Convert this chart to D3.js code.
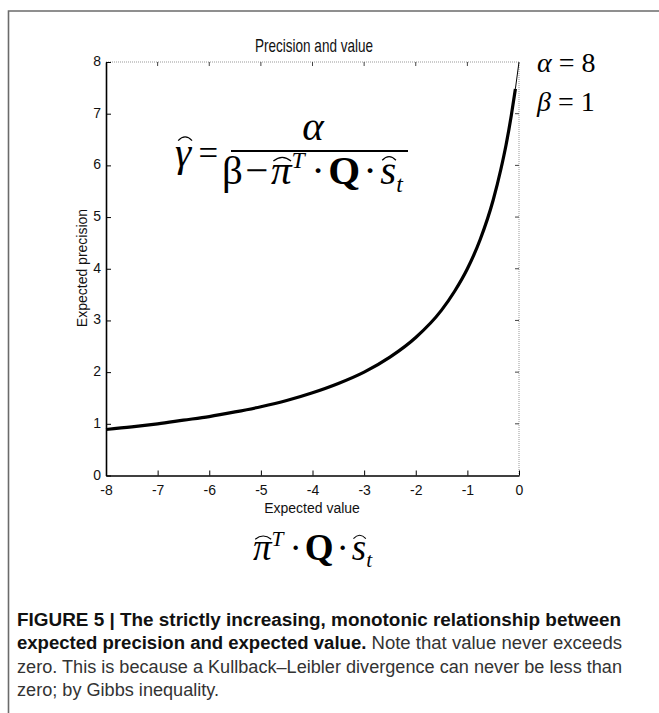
<!DOCTYPE html>
<html>
<head>
<meta charset="utf-8">
<script src="https://cdn.jsdelivr.net/npm/d3@7"></script>
<style>
  body { margin: 0; background: #fff; }
  svg { display: block; }
</style>
</head>
<body>
<div id="chart-area"></div>
<script>
// expected value (x) and expected precision (y)
var expectedValue = [-8, -7.5, -7, -6.5, -6, -5.5, -5, -4.5, -4, -3.5, -3, -2.5, -2, -1.5, -1.25, -1, -0.75, -0.5, -0.35, -0.25, -0.15, -0.07];
var expectedPrecision = [0.89, 0.94, 1.0, 1.07, 1.14, 1.23, 1.33, 1.45, 1.6, 1.78, 2.0, 2.29, 2.67, 3.2, 3.56, 4.0, 4.57, 5.33, 5.93, 6.4, 6.96, 7.48];
// thin tail running up to the corner
var tailValue = [-0.07, 0];
var tailPrecision = [7.48, 8];

var xTicks = [-8, -7, -6, -5, -4, -3, -2, -1, 0];
var yTicks = [0, 1, 2, 3, 4, 5, 6, 7, 8];

var captionLines = [
    [{t: "FIGURE 5 | The strictly increasing, monotonic relationship between", b: true}],
    [{t: "expected precision and expected value.", b: true}, {t: " Note that value never exceeds", b: false}],
    [{t: "zero. This is because a Kullback\u2013Leibler divergence can never be less than", b: false}],
    [{t: "zero; by Gibbs inequality.", b: false}]
];
// full lines are justified to this width; the last one keeps its natural width
var captionWidths = [604, 605, 605, null];

var svg = d3.select("#chart-area").append("svg")
    .attr("width", 659)
    .attr("height", 713);

// frame
svg.append("path")
    .attr("d", "M8.5,713 V11 H700")
    .attr("fill", "none")
    .attr("stroke", "#6b6b6b")
    .attr("stroke-width", 1.6);

var pLeft = 106, pRight = 519, pTop = 62, pBottom = 475.5;

var x = d3.scaleLinear().domain([-8, 0]).range([pLeft, pRight]);
var y = d3.scaleLinear().domain([0, 8]).range([pBottom, pTop]);

var sans = "'Liberation Sans', Arial, sans-serif";
var serif = "'Liberation Serif', 'Times New Roman', serif";

// top and right box edges (light, dotted)
svg.append("path")
    .attr("d", "M" + pLeft + "," + pTop + " H" + pRight + " V" + pBottom)
    .attr("fill", "none")
    .attr("stroke", "#999")
    .attr("stroke-width", 1)
    .attr("stroke-dasharray", "1,1");

// mirrored inward ticks top/right
svg.append("g").selectAll("line").data(xTicks.slice(1, -1)).enter().append("line")
    .attr("x1", d => x(d)).attr("x2", d => x(d))
    .attr("y1", pTop).attr("y2", pTop + 4)
    .attr("stroke", "#444").attr("stroke-width", 1);
svg.append("g").selectAll("line").data(yTicks.slice(1, -1)).enter().append("line")
    .attr("x1", pRight).attr("x2", pRight - 4)
    .attr("y1", d => y(d)).attr("y2", d => y(d))
    .attr("stroke", "#444").attr("stroke-width", 1);

var xAxis = svg.append("g")
    .attr("transform", "translate(0," + pBottom + ")")
    .call(d3.axisBottom(x).tickValues(xTicks).tickSizeInner(-5).tickSizeOuter(0).tickPadding(8).tickFormat(d => String(d)));
var yAxis = svg.append("g")
    .attr("transform", "translate(" + pLeft + ",0)")
    .call(d3.axisLeft(y).tickValues(yTicks).tickSizeInner(-5).tickSizeOuter(0).tickPadding(5).tickFormat(d => String(d)));

[xAxis, yAxis].forEach(a => {
    a.attr("font-size", null).attr("font-family", null);
    a.select(".domain").attr("stroke", "#000").attr("stroke-width", 1.6);
    a.selectAll(".tick line").attr("stroke", "#000");
    a.selectAll("text")
        .style("font-family", sans)
        .style("font-size", "14px")
        .attr("fill", "#111");
});
yAxis.selectAll(".tick text").attr("dy", "0.25em");
xAxis.selectAll(".tick text").attr("dy", "0.8em");

// curve
var line = d3.line()
    .x(d => x(d[0]))
    .y(d => y(d[1]))
    .curve(d3.curveMonotoneX);

svg.append("path")
    .datum(expectedValue.map((v, i) => [v, expectedPrecision[i]]))
    .attr("d", line)
    .attr("fill", "none")
    .attr("stroke", "#000")
    .attr("stroke-width", 3.2);

svg.append("path")
    .datum(tailValue.map((v, i) => [v, tailPrecision[i]]))
    .attr("d", line)
    .attr("fill", "none")
    .attr("stroke", "#000")
    .attr("stroke-width", 1);

// titles
svg.append("text")
    .attr("x", 255).attr("y", 52)
    .attr("font-family", sans).attr("font-size", 19)
    .attr("textLength", 118).attr("lengthAdjust", "spacingAndGlyphs")
    .attr("fill", "#111")
    .text("Precision and value");

svg.append("text")
    .attr("x", 312).attr("y", 513)
    .attr("text-anchor", "middle")
    .attr("font-family", sans).attr("font-size", 14)
    .attr("fill", "#111")
    .text("Expected value");

svg.append("text")
    .attr("transform", "translate(87,268) rotate(-90)")
    .attr("text-anchor", "middle")
    .attr("font-family", sans).attr("font-size", 14)
    .attr("fill", "#111")
    .text("Expected precision");

// little formula layout: pieces placed one after another, hats drawn as arcs
function formula(x0, y0, size, pieces, anchor) {
    var g = svg.append("g");
    var cx = 0;
    var placed = [];
    pieces.forEach(p => {
        cx += (p.gap || 0) * size;
        var fs = size * (p.scale || 1);
        var t = g.append("text")
            .attr("x", cx)
            .attr("y", p.dy ? p.dy * size : 0)
            .attr("font-family", serif)
            .attr("font-size", fs)
            .attr("font-style", p.i ? "italic" : "normal")
            .attr("font-weight", p.b ? "bold" : "normal")
            .attr("fill", "#000")
            .text(p.t);
        var w = t.node().getComputedTextLength();
        placed.push({p: p, x: cx, w: w});
        cx += w + (p.after || 0) * size;
    });
    placed.forEach(q => {
        if (!q.p.hat) return;
        var hy = -size * (q.p.hatY || 0.62);
        var sh = (q.p.hatShift || 0) * size;
        var x1 = q.x + q.w * 0.12 + sh, x2 = q.x + q.w * 0.98 + sh;
        g.append("path")
            .attr("d", "M" + x1 + "," + hy + " Q" + ((x1 + x2) / 2) + "," + (hy - size * 0.18) + " " + x2 + "," + hy)
            .attr("fill", "none")
            .attr("stroke", "#000")
            .attr("stroke-width", size * 0.03);
    });
    var off = anchor === "middle" ? -cx / 2 : 0;
    g.attr("transform", "translate(" + (x0 + off) + "," + y0 + ")");
    return cx;
}

var fs = 41;
formula(175, 166, fs, [
    {t: "\u03b3", i: true, hat: true, hatY: 0.62, hatShift: 0.03, after: 0.18},
    {t: "=", scale: 0.85, dy: -0.03, after: 0}
]);
formula(313, 140, fs, [{t: "\u03b1", i: true}], "middle");
svg.append("line")
    .attr("x1", 231).attr("x2", 408)
    .attr("y1", 151).attr("y2", 151)
    .attr("stroke", "#000").attr("stroke-width", 1.8);

var denom = [
    {t: "\u03b2", after: 0.06},
    {t: "\u2212", after: 0.06},
    {t: "\u03c0", i: true, hat: true, hatY: 0.56},
    {t: "T", i: true, scale: 0.58, dy: -0.38, after: 0.16},
    {t: "\u00b7", after: 0.08},
    {t: "Q", b: true, after: 0.08},
    {t: "\u00b7", after: 0.08},
    {t: "s", i: true, hat: true, hatY: 0.58},
    {t: "t", i: true, scale: 0.58, dy: 0.2}
];
formula(222, 184, fs, denom);
formula(253, 560, 37, denom.slice(2));

// parameters
svg.append("text")
    .attr("x", 537).attr("y", 72)
    .attr("font-family", serif).attr("font-size", 28)
    .html("<tspan font-style='italic'>\u03b1</tspan> = 8");
svg.append("text")
    .attr("x", 537).attr("y", 111)
    .attr("font-family", serif).attr("font-size", 28)
    .html("<tspan font-style='italic'>\u03b2</tspan> = 1");

// caption
var capFont = "'Liberation Sans Narrow', 'Arial Narrow', 'Liberation Sans', Arial, sans-serif";
var squeeze = 1;
captionLines.forEach((parts, i) => {
    var t = svg.append("text")
        .attr("x", 17)
        .attr("y", 626 + i * 23.3)
        .attr("font-family", capFont)
        .attr("font-size", 17.5)
        .attr("fill", "#222");
    parts.forEach(p => {
        t.append("tspan")
            .attr("font-weight", p.b ? "bold" : "normal")
            .attr("fill", p.b ? "#111" : "#333")
            .text(p.t);
    });
    var natural = t.node().getComputedTextLength();
    var w = captionWidths[i];
    if (w) {
        if (i === 2) squeeze = w / natural;
    } else {
        w = natural * squeeze;
    }
    t.attr("textLength", w).attr("lengthAdjust", "spacingAndGlyphs");
});
</script>
</body>
</html>
